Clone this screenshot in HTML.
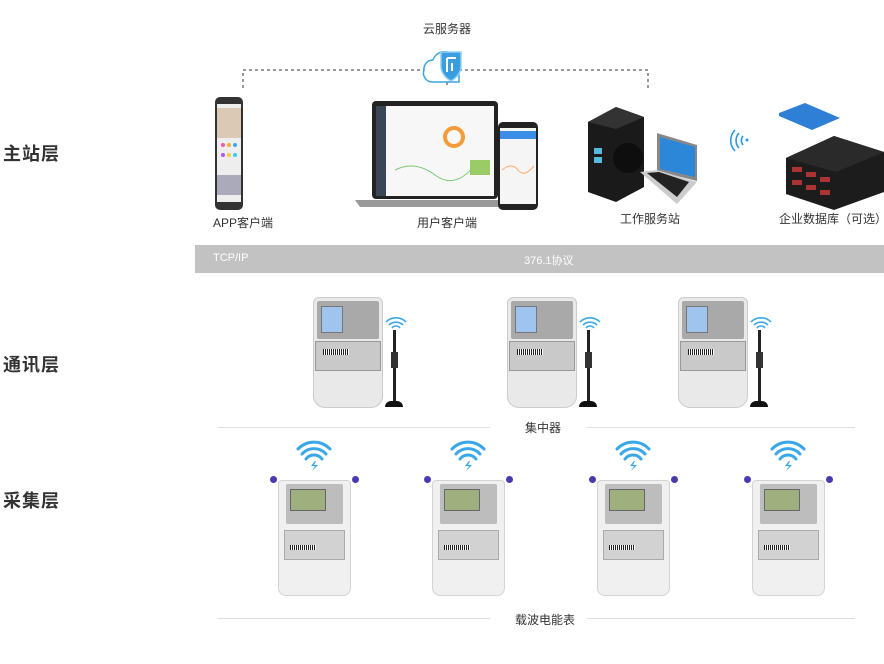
<!DOCTYPE html>
<html><head><meta charset="utf-8"><style>
*{margin:0;padding:0;box-sizing:border-box}
body{width:884px;height:664px;background:#fff;position:relative;overflow:hidden;font-family:"Liberation Sans","Noto Sans CJK SC",sans-serif;color:#333}
.a{position:absolute}
.lab{position:absolute;font-size:18px;font-weight:bold;color:#333;left:3px;letter-spacing:1px}
.t{position:absolute;font-size:12px;color:#333;white-space:nowrap;transform:translateX(-50%)}
.conc{position:absolute;width:70px;height:111px}
.conc .b{position:absolute;left:0;top:0;width:70px;height:111px;background:#e9e9e9;border:1px solid #ccc;border-radius:6px 6px 12px 12px}
.conc .top{position:absolute;left:4px;top:4px;width:62px;height:38px;background:#a9a9a9;border-radius:2px}
.conc .scr{position:absolute;left:8px;top:9px;width:22px;height:27px;background:#9fc4ee;border:1px solid #777}
.conc .mid{position:absolute;left:2px;top:44px;width:66px;height:30px;background:#c9c9c9;border:1px solid #999}
.conc .bar{position:absolute;left:10px;top:52px;width:26px;height:6px;background:repeating-linear-gradient(90deg,#222 0 1px,#fff 1px 2px)}
.conc .ant{position:absolute;left:80px;top:33px;width:3px;height:75px;background:#222}
.conc .ant2{position:absolute;left:78px;top:55px;width:7px;height:16px;background:#333}
.conc .base{position:absolute;left:72px;top:104px;width:18px;height:6px;background:#111;border-radius:6px 6px 0 0}
.meter{position:absolute;width:73px;height:116px}
.meter .b{position:absolute;left:0;top:0;width:73px;height:116px;background:#f0f0f0;border:1px solid #d3d3d3;border-radius:4px 4px 8px 8px}
.meter .top{position:absolute;left:8px;top:4px;width:57px;height:40px;background:#bdbdbd;border-radius:2px}
.meter .scr{position:absolute;left:12px;top:9px;width:36px;height:22px;background:#9fb07e;border:1px solid #666}
.meter .mid{position:absolute;left:6px;top:50px;width:61px;height:30px;background:#d2d2d2;border:1px solid #aaa}
.meter .bar{position:absolute;left:12px;top:65px;width:26px;height:5px;background:repeating-linear-gradient(90deg,#222 0 1px,#fff 1px 2px)}
.meter .dot{position:absolute;top:-4px;width:7px;height:7px;border-radius:50%;background:#4a3ab0}
</style></head><body>

<div class="lab" style="top:140px">主站层</div>
<div class="lab" style="top:351px">通讯层</div>
<div class="lab" style="top:487px">采集层</div>

<div class="t" style="left:447px;top:20px">云服务器</div>
<svg class="a" style="left:0;top:0" width="884" height="240">
<path d="M243 88V70H648V88M447 70V88" fill="none" stroke="#333" stroke-dasharray="3,3"/>
<path d="M424 70a9 9 0 0 1 9-10a12 12 0 0 1 22-2h4v24h-26a9 9 0 0 1-9-12z" fill="#fff" stroke="#3da3e0" stroke-width="1.5"/>
<path d="M441 52h20v14c0 7-5 12-10 15c-5-3-10-8-10-15z" fill="#3a9de0" stroke="#8fd0f5" stroke-width="1.5"/>
<path d="M447 58h9M447 58v14M452 63v8" stroke="#fff" stroke-width="2"/>
<!-- app phone -->
<rect x="215" y="97" width="28" height="113" rx="5" fill="#333"/>
<rect x="217" y="104" width="24" height="98" fill="#eee"/>
<rect x="217" y="108" width="24" height="30" fill="#d9c9b5"/>
<circle cx="223" cy="145" r="2" fill="#f5a" /><circle cx="229" cy="145" r="2" fill="#fa3"/><circle cx="235" cy="145" r="2" fill="#3af"/>
<circle cx="223" cy="155" r="2" fill="#a5f" /><circle cx="229" cy="155" r="2" fill="#fc3"/><circle cx="235" cy="155" r="2" fill="#3cf"/>
<rect x="217" y="175" width="24" height="20" fill="#aab"/>
<!-- laptop -->
<rect x="372" y="101" width="126" height="98" rx="4" fill="#222"/>
<rect x="376" y="106" width="118" height="90" fill="#f7f7f7"/>
<rect x="376" y="106" width="10" height="90" fill="#3a4556"/>
<circle cx="454" cy="137" r="9" fill="none" stroke="#f39c3a" stroke-width="4"/>
<path d="M395 170q20-10 40 5t40-10" fill="none" stroke="#7c7" />
<rect x="470" y="160" width="20" height="15" fill="#9c6"/>
<path d="M355 200h150l-5 7h-140z" fill="#999"/>
<!-- phone overlay -->
<rect x="498" y="122" width="40" height="88" rx="5" fill="#222"/>
<rect x="500" y="128" width="36" height="76" fill="#f5f5f5"/>
<rect x="500" y="131" width="36" height="8" fill="#3a8ee6"/>
<path d="M502 170q10-8 16 0t16 -4" fill="none" stroke="#fa6"/>
<!-- server -->
<path d="M588 122l28-15l28 10v70l-28 15l-28-10z" fill="#1a1a1a"/>
<path d="M616 107l28 10l-28 12l-28-7z" fill="#333"/>
<circle cx="628" cy="158" r="15" fill="#0e0e0e"/>
<rect x="594" y="148" width="8" height="6" fill="#5bd"/><rect x="594" y="157" width="8" height="6" fill="#5bd"/>
<path d="M657 133l40 12v36l-40-10z" fill="#888"/><path d="M660 137l35 10v30l-35-8z" fill="#2c87d8"/>
<path d="M640 172l17-2l40 12l-20 22z" fill="#ccc"/><path d="M647 173l12-1l30 10l-12 15z" fill="#222"/>
<!-- wifi side -->
<path d="M743 136a7 7 0 0 0 0 9M739 133a11 11 0 0 0 0 15M735 130a15 15 0 0 0 0 21" fill="none" stroke="#2a9be0" stroke-width="1.6"/>
<circle cx="747" cy="140" r="1.5" fill="#2a9be0"/>
<!-- db -->
<path d="M786 158l48-22l50 16v40l-50 18l-48-16z" fill="#1c1c1c"/>
<path d="M786 158l48-22l50 16l-48 20z" fill="#2a2a2a"/>
<path d="M779 113l26-10l35 15l-28 12l-33-14z" fill="#2f7fd6"/>
<rect x="792" y="167" width="10" height="5" fill="#a33"/><rect x="806" y="172" width="10" height="5" fill="#a33"/><rect x="820" y="177" width="10" height="5" fill="#a33"/>
<rect x="792" y="180" width="10" height="5" fill="#a33"/><rect x="806" y="185" width="10" height="5" fill="#a33"/><rect x="820" y="190" width="10" height="5" fill="#a33"/>
</svg>

<div class="t" style="left:243px;top:214px">APP客户端</div>
<div class="t" style="left:447px;top:214px">用户客户端</div>
<div class="t" style="left:650px;top:210px">工作服务站</div>
<div class="t" style="left:833px;top:210px">企业数据库（可选）</div>

<div class="a" style="left:195px;top:245px;width:689px;height:28px;background:#c2c2c2"></div>
<div class="a" style="left:213px;top:252px;font-size:11px;color:#fff">TCP/IP</div>
<div class="a" style="left:524px;top:252px;font-size:11px;color:#fff">376.1协议</div>

<div class="conc" style="left:313px;top:297px"><div class="b"></div><div class="top"></div><div class="scr"></div><div class="mid"></div><div class="bar"></div><div class="ant"></div><div class="ant2"></div><div class="base"></div></div>
<div class="conc" style="left:507px;top:297px"><div class="b"></div><div class="top"></div><div class="scr"></div><div class="mid"></div><div class="bar"></div><div class="ant"></div><div class="ant2"></div><div class="base"></div></div>
<div class="conc" style="left:678px;top:297px"><div class="b"></div><div class="top"></div><div class="scr"></div><div class="mid"></div><div class="bar"></div><div class="ant"></div><div class="ant2"></div><div class="base"></div></div>

<div class="a" style="left:218px;top:427px;width:272px;height:1px;background:#ddd"></div>
<div class="a" style="left:587px;top:427px;width:268px;height:1px;background:#ddd"></div>
<div class="t" style="left:543px;top:419px">集中器</div>

<div class="meter" style="left:278px;top:480px"><div class="b"></div><div class="top"></div><div class="scr"></div><div class="mid"></div><div class="bar"></div><div class="dot" style="left:-8px"></div><div class="dot" style="left:74px"></div></div>
<div class="meter" style="left:432px;top:480px"><div class="b"></div><div class="top"></div><div class="scr"></div><div class="mid"></div><div class="bar"></div><div class="dot" style="left:-8px"></div><div class="dot" style="left:74px"></div></div>
<div class="meter" style="left:597px;top:480px"><div class="b"></div><div class="top"></div><div class="scr"></div><div class="mid"></div><div class="bar"></div><div class="dot" style="left:-8px"></div><div class="dot" style="left:74px"></div></div>
<div class="meter" style="left:752px;top:480px"><div class="b"></div><div class="top"></div><div class="scr"></div><div class="mid"></div><div class="bar"></div><div class="dot" style="left:-8px"></div><div class="dot" style="left:74px"></div></div>

<svg class="a" style="left:0;top:300px" width="884" height="180">
<g fill="none" stroke="#3aa8e8" stroke-width="1.6">
<path d="M389 25a10 10 0 0 1 14 0M392 28a5 5 0 0 1 8 0M386 22a14 14 0 0 1 20 0"/>
<path d="M583 25a10 10 0 0 1 14 0M586 28a5 5 0 0 1 8 0M580 22a14 14 0 0 1 20 0"/>
<path d="M754 25a10 10 0 0 1 14 0M757 28a5 5 0 0 1 8 0M751 22a14 14 0 0 1 20 0"/>
</g>
<g fill="none" stroke="#3aa8e8" stroke-width="3" stroke-linecap="round">
<path d="M302 154a16 16 0 0 1 24 0M306 159a10 10 0 0 1 16 0M298 149a22 22 0 0 1 32 0"/>
<path d="M456 154a16 16 0 0 1 24 0M460 159a10 10 0 0 1 16 0M452 149a22 22 0 0 1 32 0"/>
<path d="M621 154a16 16 0 0 1 24 0M625 159a10 10 0 0 1 16 0M617 149a22 22 0 0 1 32 0"/>
<path d="M776 154a16 16 0 0 1 24 0M780 159a10 10 0 0 1 16 0M772 149a22 22 0 0 1 32 0"/>
</g>
<g fill="#3aa8e8">
<path d="M315 161l-4 5h4l-3 5l6-6h-4l2-4z"/><path d="M469 161l-4 5h4l-3 5l6-6h-4l2-4z"/>
<path d="M634 161l-4 5h4l-3 5l6-6h-4l2-4z"/><path d="M789 161l-4 5h4l-3 5l6-6h-4l2-4z"/>
</g>
</svg>

<div class="a" style="left:218px;top:618px;width:272px;height:1px;background:#ddd"></div>
<div class="a" style="left:587px;top:618px;width:268px;height:1px;background:#ddd"></div>
<div class="t" style="left:545px;top:611px">载波电能表</div>
</body></html>
